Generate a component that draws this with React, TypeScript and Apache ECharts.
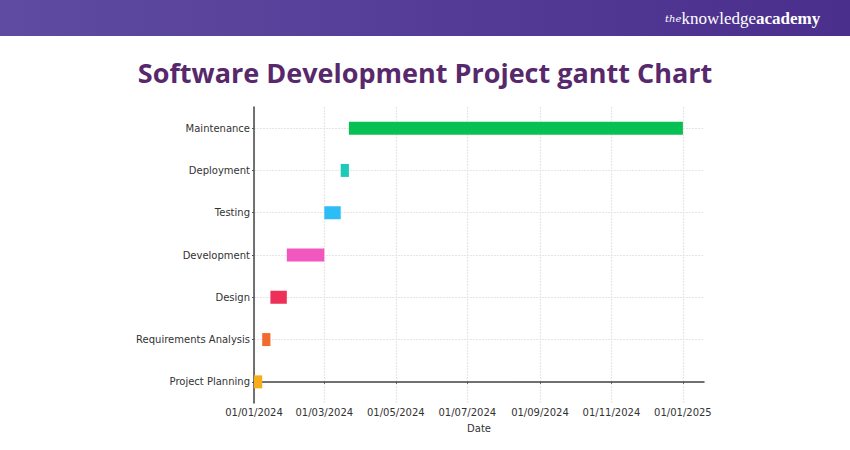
import React, { useEffect, useRef } from "react";
import * as echarts from "echarts";

const tasks = [
  "Project Planning",
  "Requirements Analysis",
  "Design",
  "Development",
  "Testing",
  "Deployment",
  "Maintenance",
];
const startDates = ["2024-01-01", "2024-01-08", "2024-01-15", "2024-01-29", "2024-03-01", "2024-03-15", "2024-03-22"];
const endDates = ["2024-01-08", "2024-01-15", "2024-01-29", "2024-03-01", "2024-03-15", "2024-03-22", "2025-01-01"];
const barColors = ["#f7ac1b", "#f26a2c", "#ee2f57", "#f257c0", "#2cbcf6", "#1dcab9", "#07c054"];
const xTickDates = ["2024-01-01", "2024-03-01", "2024-05-01", "2024-07-01", "2024-09-01", "2024-11-01", "2025-01-01"];
const axisMinDate = "2024-01-01";
const axisMaxDate = "2025-01-19";

const toTime = (s: string) => {
  const [y, m, d] = s.split("-").map(Number);
  return new Date(y, m - 1, d).getTime();
};
const pad = (n: number) => (n < 10 ? "0" + n : "" + n);
const fmtDate = (v: number) => {
  const d = new Date(v);
  return pad(d.getDate()) + "/" + pad(d.getMonth() + 1) + "/" + d.getFullYear();
};

export default function App() {
  const ref = useRef<HTMLDivElement>(null);
  useEffect(() => {
    document.body.style.margin = "0";
    const chart = echarts.init(ref.current!, null, { renderer: "svg" });
    const data = tasks.map((t, i) => [i, toTime(startDates[i]), toTime(endDates[i])]);
    const yIdx = tasks.map((_, i) => i);
    const xTicks = xTickDates.map(toTime);
    const axisFont = { fontFamily: "DejaVu Sans", fontSize: 10, color: "#333" };
    const gridLine = { show: true, lineStyle: { color: "#e6e6e6", width: 1.2, type: [2, 1] as any } };
    chart.setOption({
      animation: false,
      backgroundColor: "#ffffff",
      grid: { left: 254, right: 146, top: 107, bottom: 47, containLabel: false, outerBoundsMode: "none" },
      xAxis: {
        type: "value",
        min: toTime(axisMinDate),
        max: toTime(axisMaxDate),
        name: "Date",
        nameLocation: "middle",
        nameGap: 20,
        nameTextStyle: { ...axisFont },
        axisLine: { show: true, lineStyle: { color: "#444", width: 1.5 } },
        axisTick: { show: true, length: 2, customValues: xTicks, lineStyle: { color: "#555" } },
        axisLabel: { ...axisFont, margin: 4, customValues: xTicks, formatter: (v: number) => fmtDate(v), hideOverlap: false },
        splitLine: gridLine,
      },
      yAxis: {
        type: "value",
        min: -0.5,
        max: 6.5,
        axisLine: { show: true, lineStyle: { color: "#444", width: 1.5 } },
        axisTick: { show: true, length: 2, customValues: yIdx, lineStyle: { color: "#555" } },
        axisLabel: { ...axisFont, margin: 4, customValues: yIdx, formatter: (v: number) => tasks[Math.round(v)] ?? "" },
        splitLine: gridLine,
      },
      series: [
        {
          type: "custom",
          encode: { x: [1, 2], y: 0 },
          data,
          renderItem: (params: any, api: any) => {
            const y = api.value(0);
            const p0 = api.coord([api.value(1), y]);
            const p1 = api.coord([api.value(2), y]);
            const h = 13;
            return {
              type: "rect",
              shape: { x: p0[0], y: p0[1] - h / 2, width: p1[0] - p0[0], height: h },
              style: { fill: barColors[params.dataIndex] },
            };
          },
        },
      ],
      graphic: [
        {
          type: "rect",
          left: 0,
          top: 0,
          shape: { width: 850, height: 36 },
          style: {
            fill: new echarts.graphic.LinearGradient(0, 0, 1, 0, [
              { offset: 0, color: "#5f4ba1" },
              { offset: 1, color: "#4a2f8c" },
            ]),
          },
          silent: true,
        },
        {
          type: "text",
          x: 665,
          y: 18,
          style: {
            text: "{a|the}{b|knowledge}{c|academy}",
            verticalAlign: "middle",
            align: "left",
            rich: {
              a: { fontFamily: "DejaVu Serif", fontStyle: "italic", fontSize: 10, fill: "#ffffff" },
              b: { fontFamily: "Liberation Serif", fontSize: 17, fill: "#ffffff" },
              c: { fontFamily: "Liberation Serif", fontWeight: "bold", fontSize: 17, fill: "#ffffff" },
            },
          },
        },
        {
          type: "text",
          x: 425,
          y: 72,
          style: {
            text: "Software Development Project gantt Chart",
            align: "center",
            verticalAlign: "middle",
            fontFamily: "Open Sans",
            fontWeight: "bold",
            fontSize: 27,
            fill: "#57296c",
          },
        },
      ],
    });
    return () => chart.dispose();
  }, []);
  return <div ref={ref} style={{ width: 850, height: 450 }} />;
}
